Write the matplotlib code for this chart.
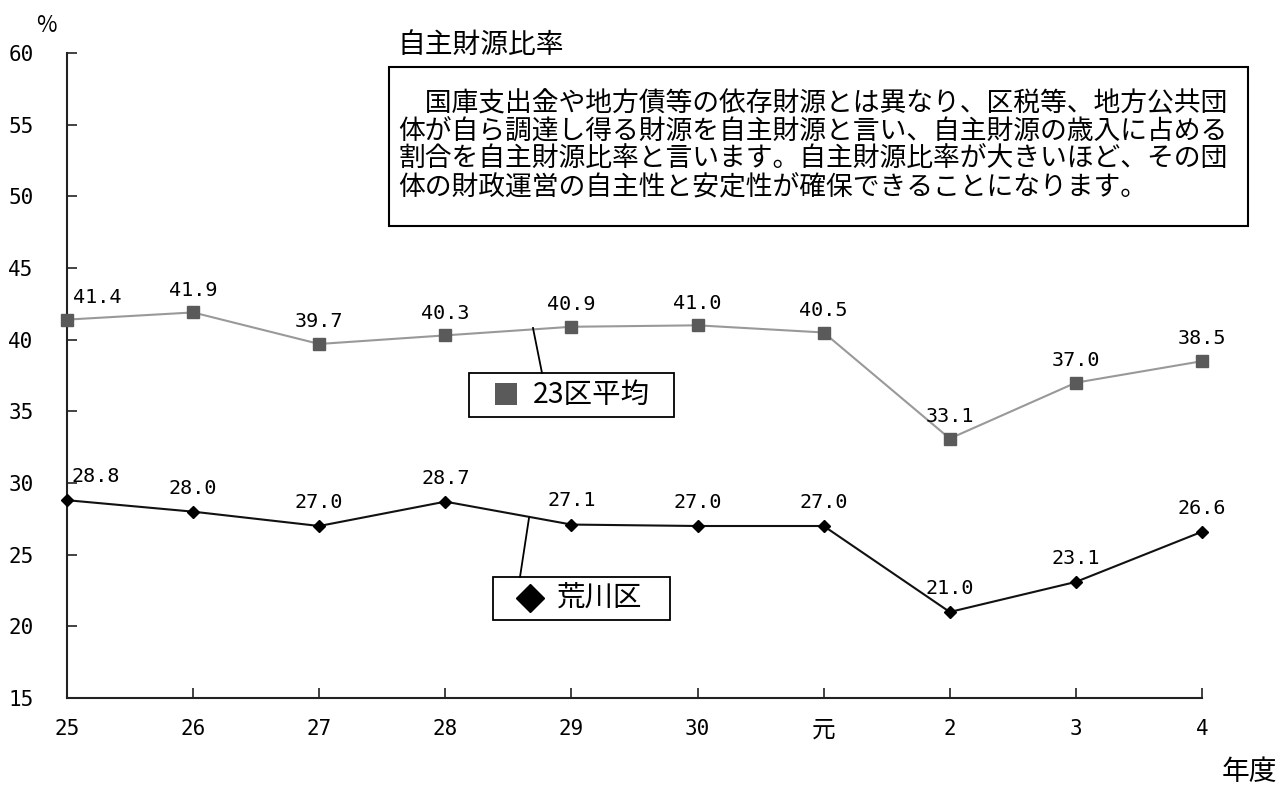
import matplotlib
matplotlib.use("Agg")
import matplotlib.pyplot as plt
from matplotlib.patches import Rectangle

plt.rcParams['font.family'] = ['Noto Sans CJK JP', 'DejaVu Sans']

years = ["25", "26", "27", "28", "29", "30", "元", "2", "3", "4"]
avg23 = [41.4, 41.9, 39.7, 40.3, 40.9, 41.0, 40.5, 33.1, 37.0, 38.5]
arakawa = [28.8, 28.0, 27.0, 28.7, 27.1, 27.0, 27.0, 21.0, 23.1, 26.6]
yticks = [15, 20, 25, 30, 35, 40, 45, 50, 55, 60]
note = ("　国庫支出金や地方債等の依存財源とは異なり、区税等、地方公共団\n"
        "体が自ら調達し得る財源を自主財源と言い、自主財源の歳入に占める\n"
        "割合を自主財源比率と言います。自主財源比率が大きいほど、その団\n"
        "体の財政運営の自主性と安定性が確保できることになります。")

W, H = 1281, 789
fig = plt.figure(figsize=(W/100, H/100), dpi=100)
ax = fig.add_axes([67/W, 1-698/H, (1202-67)/W, (698-53)/H])
x = list(range(len(years)))

ax.plot(x, avg23, color='#999999', lw=1.5, marker='s', ms=8,
        mfc='#5a5a5a', mec='#5a5a5a', clip_on=False, zorder=3)
ax.plot(x, arakawa, color='#111111', lw=1.5, marker='D', ms=6,
        mfc='black', mec='black', clip_on=False, zorder=3)

ax.set_xlim(0, len(years)-1)
ax.set_ylim(15, 60)
ax.set_yticks(yticks)
ax.set_xticks(x)
ax.set_xticklabels(years)
for s in ['top', 'right']:
    ax.spines[s].set_visible(False)
for s in ['left', 'bottom']:
    ax.spines[s].set_linewidth(1.5)
    ax.spines[s].set_color('#222222')
ax.tick_params(direction='in', length=7, width=1.2, colors='#222222',
               labelsize=15, labelcolor='black')
ax.tick_params(axis='x', pad=15)
ax.tick_params(axis='y', pad=24)
for lab in ax.get_xticklabels() + ax.get_yticklabels():
    if lab.get_text() == "元":
        lab.set_fontsize(17)
    else:
        lab.set_fontfamily('DejaVu Sans Mono')

for i, v in enumerate(avg23):
    dx = 4 if i == 0 else 0
    ax.annotate(f"{v:.1f}", (i, v), xytext=(dx, 16), textcoords='offset points',
                ha='center' if i else 'left', va='center', fontsize=14.5,
                family='DejaVu Sans Mono')
for i, v in enumerate(arakawa):
    dx = 3 if i == 0 else 0
    ax.annotate(f"{v:.1f}", (i, v), xytext=(dx, 17), textcoords='offset points',
                ha='center' if i else 'left', va='center', fontsize=14.5,
                family='DejaVu Sans Mono')

def px(xp, yp):
    return (xp/W, 1-yp/H)

# texts
fig.text(*px(36, 25), "%", fontsize=16, ha='left', va='center')
fig.text(*px(397, 45), "自主財源比率", fontsize=20, ha='left', va='center')
fig.text(*px(1222, 772), "年度", fontsize=20, ha='left', va='center')

# note box
fig.patches.append(Rectangle(px(389, 226), (1248-389)/W, (226-67)/H,
                             transform=fig.transFigure, fill=False,
                             ec='black', lw=1.5))
fig.text(*px(398, 146), note, fontsize=19.3, ha='left', va='center',
         linespacing=1.04)

# legend boxes with leader lines
fig.lines.append(plt.Line2D([533/W, 542/W], [1-328/H, 1-373/H],
                            transform=fig.transFigure, color='black', lw=1.3))
fig.patches.append(Rectangle(px(469, 417), (674-469)/W, (417-373)/H,
                             transform=fig.transFigure, fc='white',
                             ec='black', lw=1.3))
fig.patches.append(Rectangle(px(495, 405), 22/W, 22/H,
                             transform=fig.transFigure, fc='#5a5a5a', ec='none'))
fig.text(*px(533, 395), "23区平均", fontsize=20.5, ha='left', va='center')

fig.lines.append(plt.Line2D([529/W, 520/W], [1-518/H, 1-577/H],
                            transform=fig.transFigure, color='black', lw=1.3))
fig.patches.append(Rectangle(px(493, 620), (670-493)/W, (620-577)/H,
                             transform=fig.transFigure, fc='white',
                             ec='black', lw=1.3))
fig.lines.append(plt.Line2D([530/W], [1-598/H], transform=fig.transFigure,
                            marker='D', ms=14, color='black', ls='none'))
fig.text(*px(557, 598), "荒川区", fontsize=20.5, ha='left', va='center')

fig.savefig("out.png", dpi=100, facecolor='white')
